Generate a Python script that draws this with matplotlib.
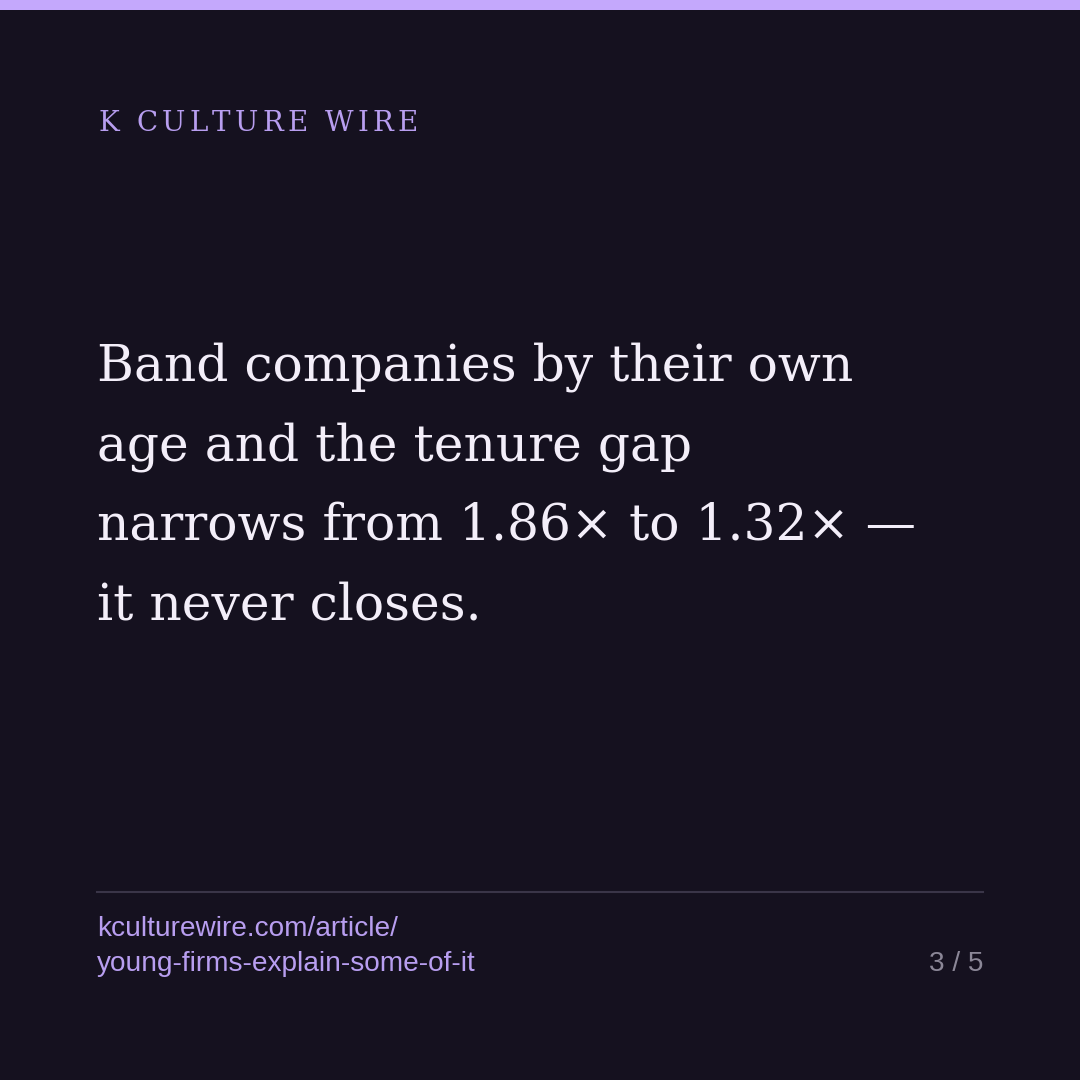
import matplotlib
matplotlib.use("Agg")
import matplotlib.pyplot as plt
from matplotlib.patches import Rectangle

# TEXT CONTENT
brand = "K CULTURE WIRE"
headline_lines = [
    "Band companies by their own",
    "age and the tenure gap",
    "narrows from 1.86\u00d7 to 1.32\u00d7 \u2014",
    "it never closes.",
]
url_lines = ["kculturewire.com/article/", "young-firms-explain-some-of-it"]
page_label = "3 / 5"

# COLOURS
bg = "#15111f"
accent = "#c4a8fc"
brand_col = "#b89ef0"
head_col = "#f3eef9"
rule_col = "#3a3548"
page_col = "#8b8797"

W = H = 1080
fig = plt.figure(figsize=(10.8, 10.8), dpi=100)
fig.patch.set_facecolor(bg)

def px(x, y):
    return x / W, 1 - y / H

# top accent bar
fig.patches.append(Rectangle((0, 1 - 10 / H), 1, 10 / H, transform=fig.transFigure,
                             facecolor=accent, edgecolor="none"))

# brand with letter spacing
renderer = fig.canvas.get_renderer()
x = 98
fs_brand = 20
spacing = 4.2
for ch in brand:
    t = fig.text(*px(x, 131), ch, fontsize=fs_brand, family="DejaVu Serif",
                 color=brand_col, va="baseline", ha="left")
    w = t.get_window_extent(renderer).width if ch != " " else fs_brand * 0.33 * 100 / 72
    x += w + spacing

# headline
for i, line in enumerate(headline_lines):
    fig.text(*px(97, 380 + 80 * i), line, fontsize=36.2, family="DejaVu Serif",
             color=head_col, va="baseline", ha="left")

# divider
fig.add_artist(plt.Line2D([97 / W, 983 / W], [1 - 892 / H] * 2, transform=fig.transFigure,
                          color=rule_col, linewidth=1.5))

# footer
for i, line in enumerate(url_lines):
    fig.text(*px(97, 936 + 35 * i), line, fontsize=20.2, family="Liberation Sans",
             color=brand_col, va="baseline", ha="left")
fig.text(*px(983, 971), page_label, fontsize=20.2, family="Liberation Sans",
         color=page_col, va="baseline", ha="right")

plt.savefig("out.png", dpi=100, facecolor=bg)
